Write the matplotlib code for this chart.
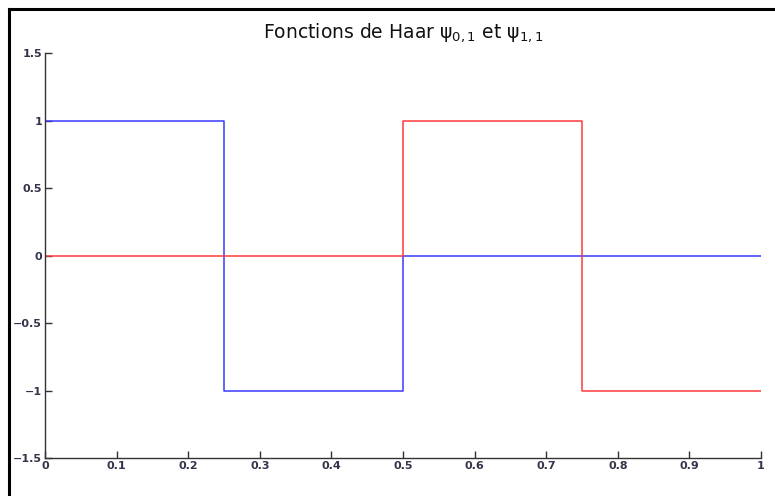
import numpy as np
import matplotlib
matplotlib.use('Agg')
from matplotlib import pyplot as plt
from matplotlib.lines import Line2D

# Haar wavelets psi_{0,1} and psi_{1,1} on [0, 1]
x_psi01 = [0, 0.25, 0.25, 0.5, 0.5, 1]
y_psi01 = [1, 1, -1, -1, 0, 0]
x_psi11 = [0, 0.5, 0.5, 0.75, 0.75, 1]
y_psi11 = [0, 0, 1, 1, -1, -1]

xticks = [0, 0.1, 0.2, 0.3, 0.4, 0.5, 0.6, 0.7, 0.8, 0.9, 1]
xticklabels = ['0', '0.1', '0.2', '0.3', '0.4', '0.5', '0.6', '0.7', '0.8', '0.9', '1']
yticks = [-1.5, -1, -0.5, 0, 0.5, 1, 1.5]
yticklabels = ['\u22121.5', '\u22121', '\u22120.5', '0', '0.5', '1', '1.5']

plt.rcParams['font.family'] = ['DejaVu Sans']
plt.rcParams['mathtext.fontset'] = 'dejavusans'

fig = plt.figure(figsize=(7.75, 4.96), dpi=100)
ax = fig.add_axes([0.058, 0.0766, 0.924, 0.8164])

ax.plot(x_psi01, y_psi01, color='#3a3aff', lw=1.1)
ax.plot(x_psi11, y_psi11, color='#ff3a3a', lw=1.1)

ax.set_xlim(0, 1)
ax.set_ylim(-1.5, 1.5)
ax.set_xticks(xticks)
ax.set_xticklabels(xticklabels, fontweight='bold')
ax.set_yticks(yticks)
ax.set_yticklabels(yticklabels, fontweight='bold')
ax.tick_params(direction='in', length=5, width=1, labelsize=8, pad=2,
               colors='#333333', labelcolor='#33334a')
ax.tick_params(axis='x', pad=2)
for side in ['top', 'right']:
    ax.spines[side].set_visible(False)
for side in ['left', 'bottom']:
    ax.spines[side].set_linewidth(1.0)
    ax.spines[side].set_color('#333333')

ax.set_title(u'Fonctions de Haar \u03c8$_{0,1}$ et \u03c8$_{1,1}$',
             fontsize=13.5, pad=11, color='#111111')

# frame of the surrounding page
fig.add_artist(Line2D([9/775, 1], [1 - 9/496, 1 - 9/496], color='black', lw=2.2,
                      transform=fig.transFigure))
fig.add_artist(Line2D([9/775, 9/775], [0, 1 - 9/496], color='black', lw=2.2,
                      transform=fig.transFigure))

fig.savefig('out.png', dpi=100)
